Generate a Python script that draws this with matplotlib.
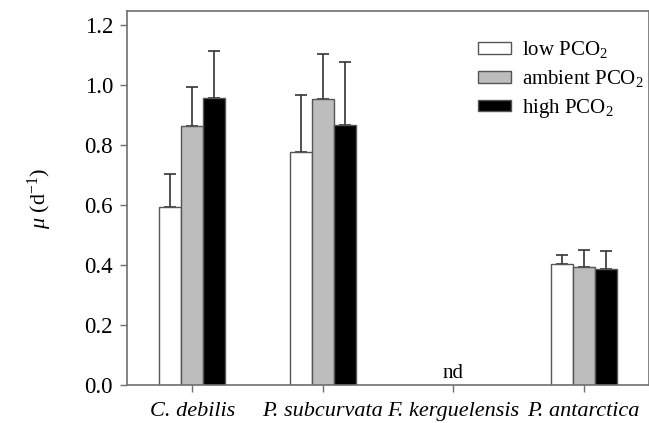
import numpy as np
import matplotlib
matplotlib.use("Agg")
import matplotlib.pyplot as plt

plt.rcParams['font.family'] = ['Liberation Serif', 'DejaVu Serif']
plt.rcParams['mathtext.fontset'] = 'custom'
plt.rcParams['mathtext.rm'] = 'Liberation Serif'
plt.rcParams['mathtext.it'] = 'Liberation Serif:italic'

species = ["C. debilis", "P. subcurvata", "F. kerguelensis", "P. antarctica"]
low_mu = [0.594, 0.778, np.nan, 0.405]
low_err = [0.110, 0.189, np.nan, 0.027]
amb_mu = [0.864, 0.953, np.nan, 0.392]
amb_err = [0.128, 0.151, np.nan, 0.058]
high_mu = [0.958, 0.868, np.nan, 0.387]
high_err = [0.156, 0.210, np.nan, 0.061]
labels = ["low PCO$_\\mathregular{2}$", "ambient PCO$_\\mathregular{2}$", "high PCO$_\\mathregular{2}$"]

fig = plt.figure(figsize=(6.49, 4.23), dpi=100)
ax = fig.add_axes([127/649, 38/423, 1 - 127/649, 374/423])

x = np.arange(len(species))
w = 0.168
edge = '#555555'
series = [(low_mu, low_err, 'white'), (amb_mu, amb_err, '#bdbdbd'), (high_mu, high_err, 'black')]
for i, (vals, errs, col) in enumerate(series):
    pos = x + (i - 1) * w
    ax.bar(pos, vals, w, color=col, edgecolor=edge, linewidth=1, label=labels[i], zorder=2)
    ax.errorbar(pos, vals, yerr=[np.zeros(len(vals)), errs], fmt='none', ecolor='#333333',
                elinewidth=1.2, capsize=4, capthick=1.2, zorder=1)

ax.text(2, 0.04, "nd", ha='center', va='center', fontsize=15)

ax.set_xlim(-0.5, 3.5)
ax.set_ylim(0, 1.247)
ax.set_yticks(np.arange(0, 1.21, 0.2))
ax.set_yticklabels([f"{v:.1f}" for v in np.arange(0, 1.21, 0.2)], fontsize=16.5)
ax.set_xticks(x)
ax.set_xticklabels(species, fontsize=16, style='italic')
ax.tick_params(axis='both', direction='out', length=5, width=1, color='#707070', pad=5)
ax.tick_params(axis='x', pad=7)
for s in ax.spines.values():
    s.set_color('#707070')
    s.set_linewidth(1.2)

ax.set_ylabel("$\\mathit{\\mu}$ (d$^{\\mathregular{-1}}$)", fontsize=16, labelpad=22)

ax.legend(loc='upper right', bbox_to_anchor=(1.025, 0.975), frameon=False, fontsize=15,
          handlelength=1.6, handleheight=0.5, handletextpad=0.5, labelspacing=0.38)

fig.savefig("out.png", dpi=100)
